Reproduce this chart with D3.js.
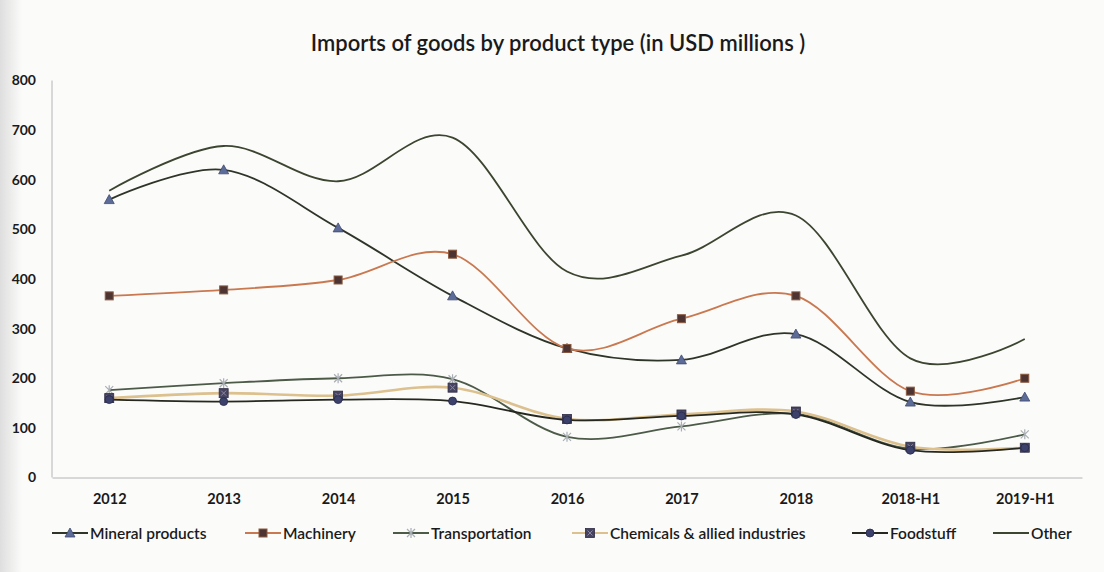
<!DOCTYPE html>
<html>
<head>
<meta charset="utf-8">
<script src="https://cdn.jsdelivr.net/npm/d3@7"></script>
<style>
  html, body { margin: 0; padding: 0; background: #fbfbfa; }
  svg { display: block; }
  text { font-family: Lato, "Open Sans", sans-serif; fill: #1a1a1a; }
</style>
</head>
<body>
<svg id="chart" width="1104" height="572"></svg>
<script>
// Categories and series (USD millions)
const categories = ["2012", "2013", "2014", "2015", "2016", "2017", "2018", "2018-H1", "2019-H1"];
const mineralProducts = [560, 620, 503, 366, 260, 237, 289, 152, 162];
const machinery       = [366, 378, 398, 450, 260, 320, 366, 174, 200];
const transportation  = [176, 190, 200, 198, 82, 103, 128, 58, 87];
const chemicals       = [160, 170, 165, 181, 118, 127, 133, 62, 60];
const foodstuff       = [157, 153, 157, 154, 116, 124, 127, 55, 60];
const other           = [578, 668, 597, 685, 415, 447, 528, 240, 279];
const yTicks = [0, 100, 200, 300, 400, 500, 600, 700, 800];
const titleText = "Imports of goods by product type (in USD millions )";

const series = [
  { name: "Mineral products", values: mineralProducts, line: "#2e3428", width: 1.8, marker: "triangle", fill: "#5d6b98", stroke: "#3f4a6e" },
  { name: "Machinery", values: machinery, line: "#c9784f", width: 1.8, marker: "square", fill: "#4d3432", stroke: "#8a5a40" },
  { name: "Transportation", values: transportation, line: "#4c5a48", width: 1.8, marker: "asterisk", fill: "none", stroke: "#a9aeb4" },
  { name: "Chemicals & allied industries", values: chemicals, line: "#dcc08e", width: 2.6, marker: "squarex", fill: "#474462", stroke: "#2f2c44" },
  { name: "Foodstuff", values: foodstuff, line: "#26281f", width: 1.8, marker: "circle", fill: "#3b416a", stroke: "#262a48" },
  { name: "Other", values: other, line: "#3c4530", width: 1.8, marker: null }
];

const svg = d3.select("#chart");

// faint shading along the left edge of the sheet
const defs = svg.append("defs");
const gl = defs.append("linearGradient").attr("id", "edge").attr("x1", 0).attr("x2", 1);
gl.append("stop").attr("offset", 0).attr("stop-color", "#dedede");
gl.append("stop").attr("offset", 1).attr("stop-color", "#fbfbfa");
svg.append("rect").attr("x", 0).attr("y", 0).attr("width", 22).attr("height", 572).attr("fill", "url(#edge)");

const x = d3.scalePoint().domain(categories).range([52, 1082]).padding(0.5);
const y = d3.scaleLinear().domain([0, 800]).range([477.5, 80.5]);

// title
svg.append("text")
  .attr("x", 558).attr("y", 51)
  .attr("text-anchor", "middle")
  .style("font-size", "22px").style("font-weight", 600)
  .text(titleText);

// axes
const yAxis = d3.axisLeft(y).tickValues(yTicks).tickSize(0).tickPadding(16);
const gy = svg.append("g").attr("transform", "translate(52,0)").call(yAxis);
gy.select(".domain").attr("stroke", "#b4b4b4").attr("d", `M0,${y(800)}V${y(0)}`);
gy.selectAll("text").style("font-size", "14px").style("font-weight", 700).attr("fill", "#1a1a1a");

const xAxis = d3.axisBottom(x).tickSize(0).tickPadding(16);
const gx = svg.append("g").attr("transform", `translate(0,${y(0)})`).call(xAxis);
gx.select(".domain").attr("stroke", "#b4b4b4");
gx.selectAll("text").style("font-size", "14.5px").style("font-weight", 700).attr("fill", "#1a1a1a");

// smoothed series lines
const lineGen = d3.line()
  .x((d, i) => x(categories[i]))
  .y(d => y(d))
  .curve(d3.curveCardinal.tension(0));

const drawOrder = [5, 0, 1, 2, 3, 4];
drawOrder.forEach(k => {
  const s = series[k];
  svg.append("path")
    .datum(s.values)
    .attr("fill", "none")
    .attr("stroke", s.line)
    .attr("stroke-width", s.width)
    .attr("stroke-linejoin", "round")
    .attr("d", lineGen);
});

function drawMarker(g, type, cx, cy, s) {
  if (type === "triangle") {
    g.append("path")
      .attr("d", `M${cx},${cy - 5}L${cx + 5},${cy + 4}L${cx - 5},${cy + 4}Z`)
      .attr("fill", s.fill).attr("stroke", s.stroke).attr("stroke-width", 0.8);
  } else if (type === "square") {
    g.append("rect").attr("x", cx - 4).attr("y", cy - 4).attr("width", 8).attr("height", 8)
      .attr("fill", s.fill).attr("stroke", s.stroke).attr("stroke-width", 1);
  } else if (type === "squarex") {
    g.append("rect").attr("x", cx - 4.5).attr("y", cy - 4.5).attr("width", 9).attr("height", 9)
      .attr("fill", s.fill).attr("stroke", s.stroke).attr("stroke-width", 0.8);
    g.append("path").attr("d", `M${cx - 2.5},${cy - 2.5}L${cx + 2.5},${cy + 2.5}M${cx + 2.5},${cy - 2.5}L${cx - 2.5},${cy + 2.5}`)
      .attr("stroke", "#8c88a4").attr("stroke-width", 1);
  } else if (type === "circle") {
    g.append("circle").attr("cx", cx).attr("cy", cy).attr("r", 4)
      .attr("fill", s.fill).attr("stroke", s.stroke).attr("stroke-width", 0.8);
  } else if (type === "asterisk") {
    g.append("path")
      .attr("d", `M${cx - 4},${cy - 4}L${cx + 4},${cy + 4}M${cx + 4},${cy - 4}L${cx - 4},${cy + 4}M${cx},${cy - 5}V${cy + 5}`)
      .attr("stroke", s.stroke).attr("stroke-width", 1.2).attr("fill", "none");
  }
}

// markers
[2, 0, 1, 3, 4].forEach(k => {
  const s = series[k];
  const g = svg.append("g");
  s.values.forEach((v, i) => drawMarker(g, s.marker, x(categories[i]), y(v), s));
});

// legend
const legendItems = [
  { k: 0, x0: 52 }, { k: 1, x0: 245 }, { k: 2, x0: 393 },
  { k: 3, x0: 572 }, { k: 4, x0: 852 }, { k: 5, x0: 993 }
];
const ly = 533;
legendItems.forEach(it => {
  const s = series[it.k];
  const g = svg.append("g");
  g.append("line").attr("x1", it.x0).attr("x2", it.x0 + 36).attr("y1", ly).attr("y2", ly)
    .attr("stroke", s.line).attr("stroke-width", Math.min(s.width, 2.2));
  if (s.marker) drawMarker(g, s.marker, it.x0 + 18, ly, s);
  g.append("text").attr("x", it.x0 + 38).attr("y", ly + 5.5)
    .style("font-size", "15.5px").style("font-weight", 600)
    .text(s.name);
});
</script>
</body>
</html>
